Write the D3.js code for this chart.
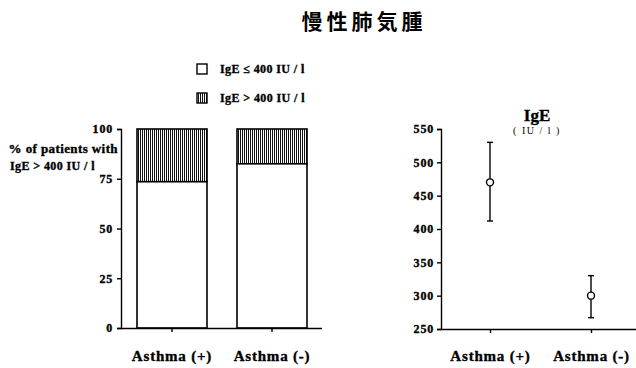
<!DOCTYPE html>
<html>
<head>
<meta charset="utf-8">
<script src="https://cdn.jsdelivr.net/npm/d3@7"></script>
<style>
  html, body { margin: 0; padding: 0; background: #fff; }
  svg { display: block; }
  text { font-family: "Liberation Serif", "DejaVu Serif", serif; font-weight: bold; fill: #000; }
  .heavy { stroke: #000; stroke-width: 0.35px; }
</style>
</head>
<body>
<svg id="chart" width="636" height="368"></svg>
<script>
// Proportion of patients by IgE level
const groups = ["Asthma (+)", "Asthma (-)"];
const pctLow = [73.5, 82.5];            // IgE ≤ 400 IU/l (%)
const pctHigh = [26.5, 17.5];           // IgE > 400 IU/l (%)
const pctTicks = [0, 25, 50, 75, 100];

// Mean IgE with error range
const igeMean = [470, 300];
const igeUpper = [530, 330];
const igeLower = [412, 267];
const igeTicks = [250, 300, 350, 400, 450, 500, 550];

const legendLabels = ["IgE ≤ 400 IU / l", "IgE > 400 IU / l"];

const svg = d3.select("#chart");

// Vertical-stripe hatch for the IgE > 400 segment
const defs = svg.append("defs");
const pat = defs.append("pattern")
  .attr("id", "hatch").attr("patternUnits", "userSpaceOnUse")
  .attr("width", 2).attr("height", 4);
pat.append("rect").attr("width", 2).attr("height", 4).attr("fill", "#fff");
pat.append("rect").attr("width", 1).attr("height", 4).attr("fill", "#111");

// Title
svg.append("text")
  .attr("x", 364).attr("y", 29)
  .attr("text-anchor", "middle")
  .style("font-family", "'Noto Sans CJK JP', sans-serif")
  .style("font-size", "21px").style("font-weight", "bold")
  .style("letter-spacing", "4px")
  .text("慢性肺気腫");

const tickFont = sel => sel.selectAll("text").classed("heavy", true)
  .style("font-size", "12px").style("letter-spacing", "0.8px");
const catFont = sel => sel.selectAll("text").classed("heavy", true)
  .style("font-size", "15px").style("letter-spacing", "0.8px");

// ---------- Left: stacked bars ----------
const yL = d3.scaleLinear().domain([0, 100]).range([328, 129]);
const xL = d3.scaleBand().domain(groups).range([122, 322]).paddingInner(0.3).paddingOuter(0.15);

const left = svg.append("g");

groups.forEach((g, i) => {
  const x0 = xL(g), w = xL.bandwidth();
  left.append("rect")
    .attr("x", x0).attr("y", yL(pctLow[i] + pctHigh[i]))
    .attr("width", w).attr("height", yL(pctLow[i]) - yL(pctLow[i] + pctHigh[i]))
    .attr("fill", "url(#hatch)").attr("stroke", "#000").attr("stroke-width", 1.6);
  left.append("rect")
    .attr("x", x0).attr("y", yL(pctLow[i]))
    .attr("width", w).attr("height", yL(0) - yL(pctLow[i]))
    .attr("fill", "#fff").attr("stroke", "#000").attr("stroke-width", 1.6);
});

const axL = left.append("g").attr("transform", "translate(121,0)")
  .call(d3.axisLeft(yL).tickValues(pctTicks).tickSize(4).tickPadding(4));
tickFont(axL);

const axLx = left.append("g").attr("transform", "translate(0,328)")
  .call(d3.axisBottom(xL).tickSize(4).tickPadding(18));
axLx.select(".domain").attr("d", "M121,0.5H322");
catFont(axLx);
[axL, axLx].forEach(a => a.selectAll("path,line").attr("stroke", "#000").attr("stroke-width", 1.4));

// Y-axis caption
svg.append("text").attr("x", 118).attr("y", 153).attr("text-anchor", "end").classed("heavy", true)
  .style("font-size", "13px").style("letter-spacing", "0.4px").text("% of patients with");
svg.append("text").attr("x", 10).attr("y", 170).classed("heavy", true)
  .style("font-size", "12px").style("letter-spacing", "0.4px").text("IgE > 400 IU / l");

// Legend
const legend = svg.append("g");
legendLabels.forEach((lab, i) => {
  const ly = 64 + i * 29;
  legend.append("rect").attr("x", 197).attr("y", ly).attr("width", 10).attr("height", 10)
    .attr("fill", i === 0 ? "#fff" : "url(#hatch)").attr("stroke", "#000").attr("stroke-width", 1.4);
  legend.append("text").attr("x", 220).attr("y", ly + 9).classed("heavy", true)
    .style("font-size", "12px").style("letter-spacing", "0.4px").text(lab);
});

// ---------- Right: mean with error bars ----------
const yR = d3.scaleLinear().domain([250, 550]).range([329, 129]);
const xR = d3.scalePoint().domain(groups).range([490, 591]);

const right = svg.append("g");
const axR = right.append("g").attr("transform", "translate(441,0)")
  .call(d3.axisLeft(yR).tickValues(igeTicks).tickSize(4).tickPadding(3));
tickFont(axR);
const axRx = right.append("g").attr("transform", "translate(0,329)")
  .call(d3.axisBottom(xR).tickSize(4).tickPadding(17));
axRx.select(".domain").attr("d", "M441,0.5H636");
catFont(axRx);
[axR, axRx].forEach(a => a.selectAll("path,line").attr("stroke", "#000").attr("stroke-width", 1.4));

groups.forEach((g, i) => {
  const cx = xR(g);
  right.append("line").attr("x1", cx).attr("x2", cx)
    .attr("y1", yR(igeUpper[i])).attr("y2", yR(igeLower[i]))
    .attr("stroke", "#000").attr("stroke-width", 1.4);
  [igeUpper[i], igeLower[i]].forEach(v => {
    right.append("line").attr("x1", cx - 3).attr("x2", cx + 3)
      .attr("y1", yR(v)).attr("y2", yR(v))
      .attr("stroke", "#000").attr("stroke-width", 1.4);
  });
  right.append("circle").attr("cx", cx).attr("cy", yR(igeMean[i])).attr("r", 3.5)
    .attr("fill", "#fff").attr("stroke", "#000").attr("stroke-width", 1.4);
});

svg.append("text").attr("x", 537).attr("y", 121).attr("text-anchor", "middle").classed("heavy", true)
  .style("font-size", "17px").text("IgE");
svg.append("text").attr("x", 537).attr("y", 134).attr("text-anchor", "middle")
  .style("font-size", "10px").style("font-weight", "normal").style("letter-spacing", "1.5px")
  .text("( IU / l )");
</script>
</body>
</html>
